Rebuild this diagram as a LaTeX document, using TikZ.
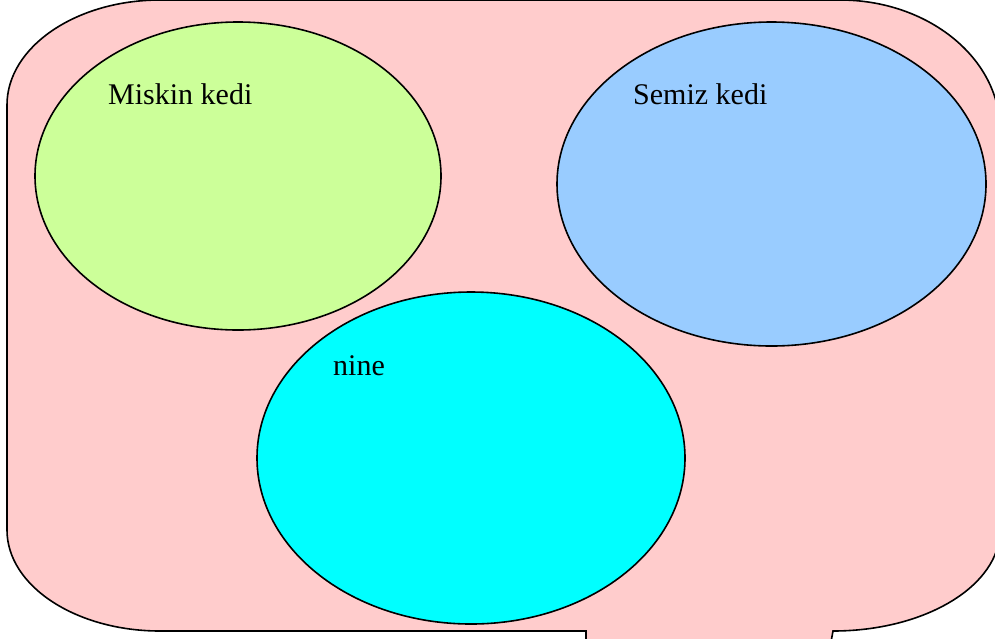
\documentclass[tikz,border=0pt]{standalone}
\usepackage{fontspec}
\setmainfont{Liberation Serif}
\usepackage{tikz}
\usetikzlibrary{shapes.geometric}

\definecolor{zemin}{HTML}{FFCCCC}
\definecolor{yesil}{HTML}{CCFF99}
\definecolor{mavi}{HTML}{99CCFF}
\definecolor{camgobegi}{HTML}{00FFFF}

\tikzset{kume/.style={ellipse,draw=black,line width=1.6pt,inner sep=0pt},
         yazi/.style={anchor=base west,inner sep=0pt,font=\fontsize{30}{36}\selectfont}}

\begin{document}
\begin{tikzpicture}[x=1pt,y=-1pt]
		\useasboundingbox (0,0) rectangle (995,638);
		\clip (0,0) rectangle (995,638);
		% dis cerceve
		\draw[line width=1.6pt,fill=zemin] (7,105) .. controls (7,47) and (76,0) .. (160,0) -- (840,0)
			.. controls (928,0) and (1000,58) .. (1000,130) -- (1000,530)
			.. controls (1000,586) and (925,631) .. (833,631) -- (831,642) -- (586,642) -- (586,631) -- (160,631)
			.. controls (76,631) and (7,586) .. (7,530) -- cycle;
		% kumeler
		\node[kume,fill=yesil,minimum width=406,minimum height=308] (miskin) at (238,176) {};
		\node[kume,fill=mavi,minimum width=429,minimum height=324] (semiz) at (771.5,184) {};
		\node[kume,fill=camgobegi,minimum width=428,minimum height=332] (nine) at (471,458) {};
		\node[yazi] (miskinyazi) at (108,104) {Miskin kedi};
		\node[yazi] (semizyazi) at (633,104) {Semiz kedi};
		\node[yazi] (nineyazi) at (333,375) {nine};
\end{tikzpicture}
\end{document}
